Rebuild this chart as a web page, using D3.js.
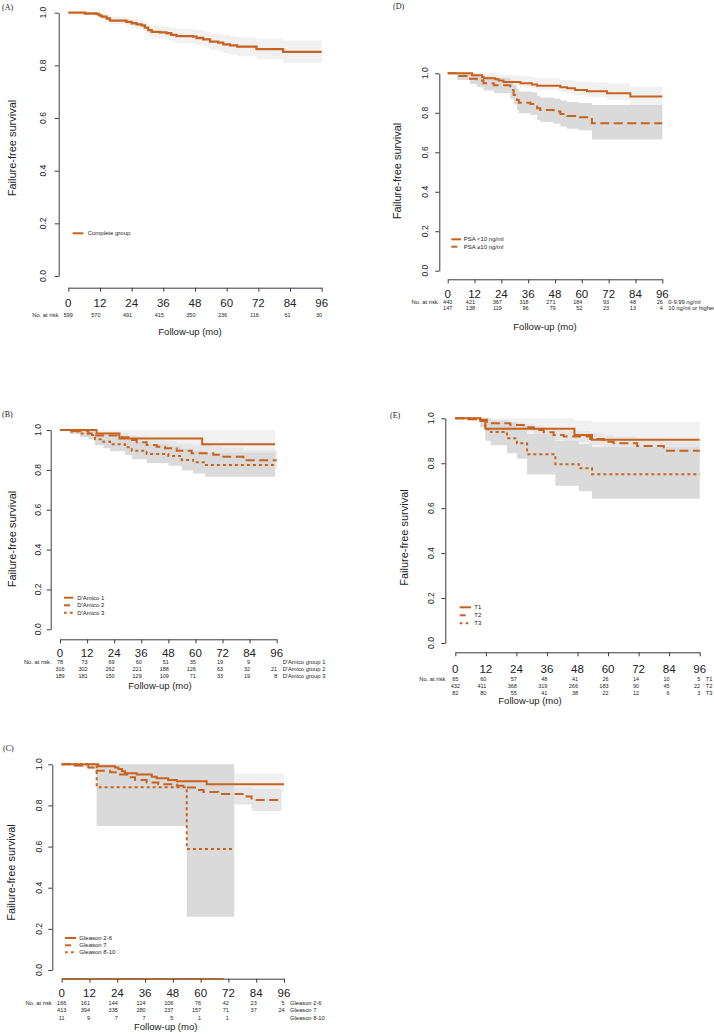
<!DOCTYPE html>
<html lang="en">
<head>
<meta charset="UTF-8">
<title>Failure-free survival</title>
<script src="https://d3js.org/d3.v7.min.js"></script>
<style>
  body { margin: 0; background: #fff; }
  svg text { font-family: "Liberation Sans", Arial, sans-serif; fill: #222; }
  svg text.tag { font-family: "Liberation Serif", "DejaVu Serif", serif; }
</style>
</head>
<body>
<svg id="chart" width="714" height="1034"></svg>
<script>
// shared ticks
const monthTicks = [0, 12, 24, 36, 48, 60, 72, 84, 96];
const survTicks = [0, 0.2, 0.4, 0.6, 0.8, 1.0];

// (A) complete group
const allTime  = [0, 6.3, 10.7, 11.7, 12.6, 14.5, 15.8, 22, 24, 25.9, 27.8, 29, 30.3, 31.6, 34.7, 37.2, 39, 41, 47.3, 48.6, 51.1, 53.7, 56.8, 58.7, 61.2, 64, 71.3, 81.4, 96];
const allSurv  = [1, 0.997, 0.995, 0.99, 0.985, 0.978, 0.97, 0.965, 0.96, 0.956, 0.952, 0.943, 0.934, 0.927, 0.925, 0.922, 0.916, 0.911, 0.909, 0.904, 0.899, 0.89, 0.886, 0.88, 0.876, 0.871, 0.862, 0.851, 0.851];
const allLower = [1, 0.992, 0.989, 0.982, 0.975, 0.966, 0.956, 0.949, 0.943, 0.938, 0.933, 0.922, 0.912, 0.904, 0.901, 0.897, 0.89, 0.884, 0.881, 0.875, 0.869, 0.859, 0.854, 0.846, 0.841, 0.835, 0.823, 0.81, 0.81];
const allUpper = [1, 1, 1, 0.998, 0.995, 0.99, 0.984, 0.981, 0.977, 0.974, 0.971, 0.964, 0.956, 0.95, 0.949, 0.947, 0.942, 0.938, 0.937, 0.933, 0.929, 0.921, 0.918, 0.914, 0.911, 0.907, 0.901, 0.894, 0.894];
const allRisk  = [599, 570, 491, 415, 350, 236, 116, 61, 30];

// (D) PSA
const psaLowTime  = [0, 10.9, 15.4, 16.2, 21.3, 22.8, 25, 32.5, 37.7, 40, 50.4, 53.4, 57, 62.3, 71.3, 81.7, 96];
const psaLowSurv  = [1, 0.99, 0.98, 0.975, 0.97, 0.963, 0.956, 0.949, 0.943, 0.9375, 0.929, 0.924, 0.916, 0.909, 0.899, 0.883, 0.883];
const psaLowLower = [1, 0.98, 0.967, 0.961, 0.955, 0.947, 0.938, 0.93, 0.922, 0.915, 0.904, 0.898, 0.888, 0.879, 0.866, 0.838, 0.838];
const psaLowUpper = [1, 1, 1, 1, 0.995, 0.993, 0.99, 0.985, 0.98, 0.975, 0.967, 0.963, 0.958, 0.955, 0.95, 0.932, 0.932];
const psaHighTime  = [0, 4.2, 10, 13, 16, 20.6, 28, 29.5, 31, 31.8, 37, 40, 41.4, 47.4, 50.4, 53.4, 58.6, 64.5, 96];
const psaHighSurv  = [1, 0.986, 0.973, 0.963, 0.949, 0.939, 0.916, 0.89, 0.865, 0.851, 0.845, 0.823, 0.814, 0.806, 0.794, 0.784, 0.777, 0.747, 0.747];
const psaHighLower = [1, 0.966, 0.946, 0.932, 0.913, 0.9, 0.872, 0.842, 0.813, 0.797, 0.789, 0.764, 0.753, 0.744, 0.73, 0.719, 0.711, 0.665, 0.665];
const psaHighUpper = [1, 1, 1, 0.995, 0.985, 0.978, 0.962, 0.94, 0.92, 0.908, 0.904, 0.886, 0.878, 0.872, 0.862, 0.855, 0.85, 0.84, 0.84];
const psaLowRisk  = [440, 421, 367, 318, 271, 184, 93, 48, 26];
const psaHighRisk = [147, 138, 119, 96, 79, 52, 23, 13, 4];

// (B) D'Amico
const dam1Time  = [0, 16.2, 26.3, 63, 95.3];
const dam1Surv  = [1, 0.983, 0.957, 0.928, 0.928];
const dam1Lower = [1, 0.95, 0.91, 0.86, 0.86];
const dam1Upper = [1, 1, 1, 1, 1];
const dam2Time  = [0, 5.2, 12.6, 15.5, 27.3, 30.3, 34, 38.4, 42.8, 46.5, 51.7, 58.3, 67.9, 71.6, 81.2, 96];
const dam2Surv  = [1, 0.995, 0.983, 0.973, 0.963, 0.95, 0.938, 0.925, 0.916, 0.908, 0.896, 0.883, 0.876, 0.866, 0.848, 0.848];
const dam2Lower = [1, 0.987, 0.97, 0.955, 0.942, 0.926, 0.911, 0.895, 0.884, 0.874, 0.86, 0.845, 0.836, 0.824, 0.802, 0.802];
const dam2Upper = [1, 1, 0.996, 0.99, 0.984, 0.975, 0.966, 0.956, 0.949, 0.943, 0.934, 0.925, 0.92, 0.912, 0.897, 0.897];
const dam3Time  = [0, 4.4, 8.9, 12.6, 15.5, 19.2, 22.2, 28.8, 31.8, 38.4, 48, 53.9, 59, 64.2, 95.3];
const dam3Surv  = [1, 0.992, 0.983, 0.975, 0.953, 0.941, 0.928, 0.913, 0.896, 0.88, 0.87, 0.85, 0.838, 0.824, 0.824];
const dam3Lower = [1, 0.98, 0.965, 0.952, 0.925, 0.909, 0.893, 0.874, 0.853, 0.834, 0.821, 0.797, 0.782, 0.766, 0.766];
const dam3Upper = [1, 1, 0.998, 0.994, 0.98, 0.972, 0.963, 0.952, 0.94, 0.928, 0.92, 0.906, 0.896, 0.886, 0.886];
const dam1Risk = [78, 73, 69, 60, 51, 35, 19, 9, null];
const dam2Risk = [316, 302, 262, 221, 188, 126, 63, 32, 21];
const dam3Risk = [189, 181, 150, 129, 109, 71, 33, 19, 8];

// (E) T stage
const t1Time  = [0, 9.8, 11.8, 46.8, 53.7, 96];
const t1Surv  = [1, 0.988, 0.953, 0.926, 0.904, 0.904];
const t1Lower = [1, 0.96, 0.9, 0.86, 0.83, 0.83];
const t1Upper = [1, 1, 1, 0.99, 0.985, 0.985];
const t2Time  = [0, 5.2, 9.8, 12.4, 14.4, 21.6, 26.9, 30.8, 34.7, 38.6, 42.6, 53, 58.3, 62.2, 71.4, 81.9, 96];
const t2Surv  = [1, 0.996, 0.993, 0.985, 0.978, 0.97, 0.96, 0.948, 0.938, 0.926, 0.919, 0.908, 0.896, 0.889, 0.877, 0.856, 0.856];
const t2Lower = [1, 0.99, 0.985, 0.974, 0.965, 0.955, 0.943, 0.929, 0.917, 0.903, 0.895, 0.882, 0.868, 0.86, 0.845, 0.818, 0.818];
const t2Upper = [1, 1, 1, 0.996, 0.991, 0.985, 0.977, 0.968, 0.96, 0.95, 0.944, 0.935, 0.925, 0.919, 0.91, 0.896, 0.896];
const t3Time  = [0, 9.8, 11.8, 14, 20.3, 24.2, 28.2, 39.3, 48.5, 53.7, 96];
const t3Surv  = [1, 0.988, 0.951, 0.939, 0.911, 0.889, 0.84, 0.796, 0.778, 0.751, 0.751];
const t3Lower = [1, 0.96, 0.9, 0.88, 0.845, 0.82, 0.75, 0.7, 0.675, 0.642, 0.642];
const t3Upper = [1, 1, 1, 0.99, 0.98, 0.965, 0.93, 0.9, 0.885, 0.872, 0.872];
const t1Risk = [65, 60, 57, 48, 41, 26, 14, 10, 5];
const t2Risk = [432, 411, 368, 319, 266, 183, 90, 45, 22];
const t3Risk = [82, 80, 55, 41, 38, 22, 12, 6, 3];

// (C) Gleason
const gl26Time  = [0, 15.8, 23, 24.5, 26, 27.3, 32.4, 38.9, 41, 46, 49.7, 62.6, 96];
const gl26Surv  = [1, 0.99, 0.985, 0.977, 0.966, 0.956, 0.95, 0.94, 0.932, 0.924, 0.917, 0.903, 0.903];
const gl26Lower = [1, 0.975, 0.967, 0.957, 0.944, 0.932, 0.925, 0.913, 0.903, 0.893, 0.885, 0.866, 0.866];
const gl26Upper = [1, 1, 1, 0.995, 0.99, 0.982, 0.977, 0.969, 0.963, 0.957, 0.952, 0.955, 0.955];
const gl7Time  = [0, 5, 11.5, 15.1, 20.9, 25.2, 28.8, 31.7, 36.7, 41.7, 49.7, 53.3, 58.3, 61.2, 67.6, 79.9, 82, 95];
const gl7Surv  = [1, 0.994, 0.985, 0.969, 0.961, 0.951, 0.937, 0.924, 0.912, 0.903, 0.896, 0.887, 0.875, 0.865, 0.856, 0.843, 0.827, 0.827];
const gl7Lower = [1, 0.987, 0.973, 0.952, 0.942, 0.93, 0.914, 0.899, 0.885, 0.874, 0.865, 0.854, 0.84, 0.828, 0.805, 0.805, 0.773, 0.773];
const gl7Upper = [1, 1, 0.997, 0.986, 0.98, 0.972, 0.961, 0.95, 0.94, 0.932, 0.927, 0.92, 0.91, 0.902, 0.89, 0.89, 0.88, 0.88];
const gl810Time  = [0, 15.1, 54, 74.5];
const gl810Surv  = [1, 0.888, 0.588, 0.588];
const gl810Lower = [1, 0.7, 0.259, 0.259];
const gl810Upper = [1, 1, 1, 1];
const gl26Risk  = [166, 161, 144, 124, 106, 76, 42, 23, 5];
const gl7Risk   = [413, 394, 335, 280, 237, 157, 71, 37, 24];
const gl810Risk = [11, 9, 7, 7, 5, 1, 1, null, null];
const gleasonAxisSpan = [0, 70];

const lineColor = "#c8621f";
const bandLight = "#f1f1f1", bandMid = "#e6e6e6", bandDark = "#dadada";
const dashed = { plot: "9,4.5", key: "6,10" };
const dotted = { plot: "3,3", key: "2.7,3.3" };

const svg = d3.select("#chart");

function curve(time, surv, lower, upper, label, dash, band) {
  return { time, surv, lower, upper, label, dash, band };
}

const panels = [
  {
    tag: "(A)", tagX: 2, tagY: 10,
    yAxisX: 58.7, yTop: 12.7, yBot: 276, xAxisY: 287.7, x0: 68.3, x1: 321.7,
    tickY: 302.7, yTickX: 43, yLabX: 12, yLabY: 148, xLabX: 190, xLabY: 331,
    width: 2.3,
    series: [curve(allTime, allSurv, allLower, allUpper, "Complete group", null, bandLight)],
    legend: { x0: 72.7, x1: 83.3, tx: 87.7, ys: [233.3] },
    risk: { ys: [315.3], rows: [allRisk], labels: [null] }
  },
  {
    tag: "(D)", tagX: 393, tagY: 9,
    yAxisX: 439.3, yTop: 73.3, yBot: 270.7, xAxisY: 279.3, x0: 447.7, x1: 662.3,
    tickY: 294, yTickX: 425.3, yLabX: 397, yLabY: 171, xLabX: 545, xLabY: 326,
    width: 2,
    series: [
      curve(psaLowTime, psaLowSurv, psaLowLower, psaLowUpper, "PSA <10 ng/ml", null, bandLight),
      curve(psaHighTime, psaHighSurv, psaHighLower, psaHighUpper, "PSA \u226510 ng/ml", dashed, bandDark)
    ],
    legend: { x0: 451.3, x1: 461, tx: 463.7, ys: [239.3, 246.7] },
    risk: { ys: [301.7, 308.3], rows: [psaLowRisk, psaHighRisk], labels: ["0-9.99 ng/ml", "10 ng/ml or higher"] }
  },
  {
    tag: "(B)", tagX: 2, tagY: 417,
    yAxisX: 50.7, yTop: 430, yBot: 629.3, xAxisY: 639.3, x0: 60, x1: 276.7,
    tickY: 652.7, yTickX: 38.3, yLabX: 12, yLabY: 539, xLabX: 160, xLabY: 685,
    width: 2,
    series: [
      curve(dam1Time, dam1Surv, dam1Lower, dam1Upper, "D'Amico 1", null, bandLight),
      curve(dam2Time, dam2Surv, dam2Lower, dam2Upper, "D'Amico 2", dashed, bandMid),
      curve(dam3Time, dam3Surv, dam3Lower, dam3Upper, "D'Amico 3", dotted, bandDark)
    ],
    legend: { x0: 64, x1: 73.3, tx: 77.3, ys: [597.7, 605.3, 612.7] },
    risk: { ys: [662.3, 669, 676.3], rows: [dam1Risk, dam2Risk, dam3Risk], labels: ["D'Amico group 1", "D'Amico group 2", "D'Amico group 3"] }
  },
  {
    tag: "(E)", tagX: 390, tagY: 418,
    yAxisX: 445.3, yTop: 418.3, yBot: 643, xAxisY: 652.3, x0: 455.3, x1: 699.7,
    tickY: 668.7, yTickX: 431, yLabX: 403.7, yLabY: 537.5, xLabX: 530, xLabY: 700,
    width: 2,
    series: [
      curve(t1Time, t1Surv, t1Lower, t1Upper, "T1", null, bandLight),
      curve(t2Time, t2Surv, t2Lower, t2Upper, "T2", dashed, bandMid),
      curve(t3Time, t3Surv, t3Lower, t3Upper, "T3", dotted, bandDark)
    ],
    legend: { x0: 459.7, x1: 471, tx: 474.3, ys: [607.3, 615.3, 623.3] },
    risk: { ys: [678.7, 686, 693], rows: [t1Risk, t2Risk, t3Risk], labels: ["T1", "T2", "T3"] }
  },
  {
    tag: "(C)", tagX: 3, tagY: 751,
    yAxisX: 52.3, yTop: 764.3, yBot: 970, xAxisY: 978.7, x0: 61.7, x1: 284,
    tickY: 993.3, yTickX: 39.3, yLabX: 11, yLabY: 872.5, xLabX: 165.7, xLabY: 1026.7,
    width: 2,
    series: [
      curve(gl26Time, gl26Surv, gl26Lower, gl26Upper, "Gleason 2-6", null, bandLight),
      curve(gl7Time, gl7Surv, gl7Lower, gl7Upper, "Gleason 7", dashed, bandMid),
      curve(gl810Time, gl810Surv, gl810Lower, gl810Upper, "Gleason 8-10", dotted, bandDark)
    ],
    legend: { x0: 65, x1: 76, tx: 79.3, ys: [938, 945.3, 952.3] },
    risk: { ys: [1002.7, 1010, 1017.7], rows: [gl26Risk, gl7Risk, gl810Risk], labels: ["Gleason 2-6", "Gleason 7", "Gleason 8-10"] },
    axisSpan: gleasonAxisSpan
  }
];

function drawPanel(p) {
  const x = d3.scaleLinear().domain([0, 96]).range([p.x0, p.x1]);
  const y = d3.scaleLinear().domain([0, 1]).range([p.yBot, p.yTop]);
  const g = svg.append("g");

  // confidence bands
  const area = d3.area().curve(d3.curveStepAfter)
    .x(d => x(d.t)).y0(d => y(d.lo)).y1(d => y(d.hi));
  p.series.forEach(s => {
    const pts = s.time.map((t, i) => ({ t, lo: s.lower[i], hi: s.upper[i] }));
    g.append("path").datum(pts).attr("fill", s.band).attr("d", area);
  });

  // survival curves
  const line = d3.line().curve(d3.curveStepAfter).x(d => x(d.t)).y(d => y(d.s));
  p.series.forEach(s => {
    const pts = s.time.map((t, i) => ({ t, s: s.surv[i] }));
    g.append("path").datum(pts)
      .attr("fill", "none")
      .attr("stroke", lineColor)
      .attr("stroke-width", p.width)
      .attr("stroke-dasharray", s.dash ? s.dash.plot : null)
      .attr("d", line);
  });

  // axes
  const yAxis = g.append("g")
    .attr("transform", `translate(${p.yAxisX},0)`)
    .call(d3.axisLeft(y).tickValues(survTicks).tickSize(4).tickSizeOuter(0).tickFormat(""));
  const xAxis = g.append("g")
    .attr("transform", `translate(0,${p.xAxisY})`)
    .call(d3.axisBottom(x).tickValues(monthTicks).tickSize(4).tickSizeOuter(0).tickFormat(""));
  [yAxis, xAxis].forEach(a => {
    a.selectAll("path, line").attr("stroke", "#3a3a3a").attr("stroke-width", 1);
  });

  if (p.axisSpan) {
    g.append("line")
      .attr("x1", x(p.axisSpan[0])).attr("x2", x(p.axisSpan[1]))
      .attr("y1", p.xAxisY).attr("y2", p.xAxisY)
      .attr("stroke", lineColor).attr("stroke-width", 1.3);
  }

  // y tick labels, rotated like base R
  g.selectAll(".ytl").data(survTicks).enter().append("text")
    .attr("transform", d => `translate(${p.yTickX},${y(d)}) rotate(-90)`)
    .attr("text-anchor", "middle")
    .attr("dominant-baseline", "central")
    .attr("font-size", 8.5)
    .text(d => d3.format(".1f")(d));

  // x tick labels
  g.selectAll(".xtl").data(monthTicks).enter().append("text")
    .attr("x", d => x(d)).attr("y", p.tickY)
    .attr("text-anchor", "middle")
    .attr("dominant-baseline", "central")
    .attr("font-size", 11.5)
    .text(d => d);

  // axis titles
  g.append("text")
    .attr("transform", `translate(${p.yLabX},${p.yLabY}) rotate(-90)`)
    .attr("text-anchor", "middle").attr("dominant-baseline", "central")
    .attr("font-size", 11)
    .text("Failure-free survival");
  g.append("text")
    .attr("x", p.xLabX).attr("y", p.xLabY)
    .attr("text-anchor", "middle").attr("dominant-baseline", "central")
    .attr("font-size", 9.5)
    .text("Follow-up (mo)");

  // panel tag
  g.append("text").attr("class", "tag")
    .attr("x", p.tagX).attr("y", p.tagY)
    .attr("font-size", 8)
    .text(p.tag);

  // legend
  p.series.forEach((s, i) => {
    const ly = p.legend.ys[i];
    g.append("line")
      .attr("x1", p.legend.x0).attr("x2", p.legend.x1)
      .attr("y1", ly).attr("y2", ly)
      .attr("stroke", lineColor).attr("stroke-width", 2)
      .attr("stroke-dasharray", s.dash ? s.dash.key : null);
    g.append("text")
      .attr("x", p.legend.tx).attr("y", ly)
      .attr("dominant-baseline", "central")
      .attr("font-size", 6)
      .text(s.label);
  });

  // numbers at risk
  g.append("text")
    .attr("x", p.x0 - 10).attr("y", p.risk.ys[0])
    .attr("text-anchor", "end").attr("dominant-baseline", "central")
    .attr("font-size", 5.8)
    .text("No. at risk");
  p.risk.rows.forEach((row, r) => {
    const ry = p.risk.ys[r];
    row.forEach((n, i) => {
      if (n === null) return;
      g.append("text")
        .attr("x", i === 0 ? x(monthTicks[i]) : x(monthTicks[i]) + 0.5)
        .attr("y", ry)
        .attr("text-anchor", i === 0 ? "middle" : "end")
        .attr("dominant-baseline", "central")
        .attr("font-size", 5.5)
        .text(n);
    });
    if (p.risk.labels[r]) {
      g.append("text")
        .attr("x", p.x1 + 6).attr("y", ry)
        .attr("dominant-baseline", "central")
        .attr("font-size", 5.8)
        .text(p.risk.labels[r]);
    }
  });
}

panels.forEach(drawPanel);
</script>
</body>
</html>
